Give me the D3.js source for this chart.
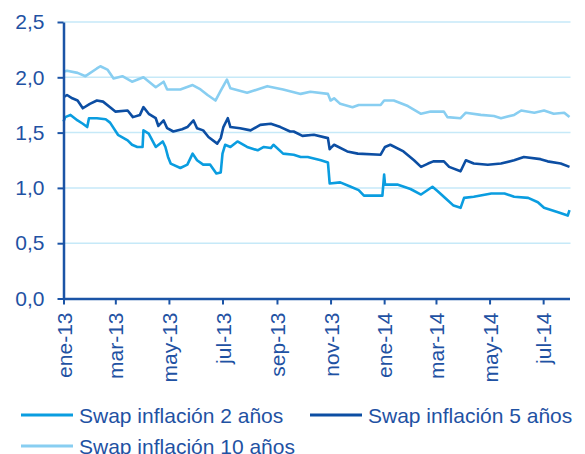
<!DOCTYPE html>
<html>

<head>
    <meta charset="utf-8" />
    <title>Swap inflación</title>
    <style>
        body { margin: 0; background: #fff; }
        svg text { font-family: "Liberation Sans", Arial, sans-serif; fill: #1f52a3; }
    </style>
</head>

<body>
    <svg width=585 height=454></svg>
</body>

<script src="https://cdn.jsdelivr.net/npm/d3@7"></script>
<script>

    var seriesNames = ['Swap inflación 2 años', 'Swap inflación 5 años', 'Swap inflación 10 años'];
    var yTicks = [0, 0.5, 1.0, 1.5, 2.0, 2.5];
    var mesesEs = ['ene', 'feb', 'mar', 'abr', 'may', 'jun', 'jul', 'ago', 'sep', 'oct', 'nov', 'dic'];

    var swap2 = [
        ['2013-01-01', 1.60], ['2013-01-03', 1.64], ['2013-01-09', 1.66], ['2013-01-17', 1.61],
        ['2013-01-23', 1.58], ['2013-01-28', 1.55], ['2013-01-30', 1.63], ['2013-02-08', 1.63],
        ['2013-02-18', 1.62], ['2013-02-23', 1.59], ['2013-03-04', 1.48], ['2013-03-15', 1.43],
        ['2013-03-20', 1.39], ['2013-03-26', 1.37], ['2013-04-01', 1.37], ['2013-04-02', 1.52],
        ['2013-04-08', 1.49], ['2013-04-16', 1.37], ['2013-04-24', 1.42], ['2013-04-27', 1.37],
        ['2013-04-30', 1.28], ['2013-05-03', 1.22], ['2013-05-14', 1.18], ['2013-05-22', 1.21],
        ['2013-05-28', 1.31], ['2013-06-02', 1.25], ['2013-06-09', 1.21], ['2013-06-17', 1.21],
        ['2013-06-24', 1.13], ['2013-06-29', 1.14], ['2013-07-01', 1.31], ['2013-07-04', 1.39],
        ['2013-07-10', 1.37], ['2013-07-18', 1.42], ['2013-07-29', 1.37], ['2013-08-10', 1.34],
        ['2013-08-17', 1.37], ['2013-08-25', 1.36], ['2013-08-28', 1.39], ['2013-09-08', 1.31],
        ['2013-09-20', 1.30], ['2013-09-28', 1.28], ['2013-10-06', 1.28], ['2013-10-21', 1.25],
        ['2013-10-29', 1.23], ['2013-10-31', 1.04], ['2013-11-12', 1.05], ['2013-11-24', 1.01],
        ['2013-12-03', 0.98], ['2013-12-09', 0.93], ['2013-12-30', 0.93], ['2014-01-01', 1.12],
        ['2014-01-02', 1.03], ['2014-01-16', 1.03], ['2014-01-31', 0.99], ['2014-02-12', 0.94],
        ['2014-02-25', 1.01], ['2014-03-03', 0.97], ['2014-03-14', 0.89], ['2014-03-21', 0.84],
        ['2014-03-29', 0.82], ['2014-04-02', 0.91], ['2014-04-13', 0.92], ['2014-05-03', 0.95],
        ['2014-05-18', 0.95], ['2014-05-29', 0.92], ['2014-06-14', 0.91], ['2014-06-25', 0.87],
        ['2014-07-02', 0.82], ['2014-07-18', 0.78], ['2014-07-29', 0.75], ['2014-07-31', 0.80]
    ];

    var swap5 = [
        ['2013-01-01', 1.82], ['2013-01-05', 1.84], ['2013-01-11', 1.81], ['2013-01-17', 1.79],
        ['2013-01-23', 1.72], ['2013-01-31', 1.76], ['2013-02-08', 1.79], ['2013-02-15', 1.78],
        ['2013-02-23', 1.73], ['2013-03-01', 1.69], ['2013-03-15', 1.70], ['2013-03-21', 1.64],
        ['2013-03-29', 1.66], ['2013-04-02', 1.73], ['2013-04-08', 1.67], ['2013-04-16', 1.63],
        ['2013-04-19', 1.56], ['2013-04-25', 1.61], ['2013-04-29', 1.54], ['2013-05-06', 1.51],
        ['2013-05-16', 1.53], ['2013-05-22', 1.55], ['2013-05-29', 1.61], ['2013-06-02', 1.54],
        ['2013-06-09', 1.52], ['2013-06-15', 1.46], ['2013-06-25', 1.40], ['2013-06-29', 1.45],
        ['2013-07-02', 1.55], ['2013-07-07', 1.63], ['2013-07-10', 1.55], ['2013-07-21', 1.54],
        ['2013-08-02', 1.52], ['2013-08-13', 1.57], ['2013-08-25', 1.58], ['2013-09-05', 1.55],
        ['2013-09-16', 1.51], ['2013-09-20', 1.51], ['2013-09-30', 1.47], ['2013-10-13', 1.48],
        ['2013-10-29', 1.45], ['2013-10-31', 1.35], ['2013-11-01', 1.36], ['2013-11-05', 1.39],
        ['2013-11-20', 1.33], ['2013-12-02', 1.31], ['2013-12-28', 1.30], ['2014-01-02', 1.37],
        ['2014-01-08', 1.39], ['2014-01-23', 1.33], ['2014-02-04', 1.25], ['2014-02-12', 1.19],
        ['2014-02-20', 1.22], ['2014-02-26', 1.24], ['2014-03-10', 1.24], ['2014-03-16', 1.19],
        ['2014-03-29', 1.15], ['2014-04-04', 1.25], ['2014-04-13', 1.22], ['2014-04-29', 1.21],
        ['2014-05-14', 1.22], ['2014-05-29', 1.25], ['2014-06-09', 1.28], ['2014-06-28', 1.26],
        ['2014-07-06', 1.24], ['2014-07-21', 1.22], ['2014-07-31', 1.19]
    ];

    var swap10 = [
        ['2013-01-01', 2.05], ['2013-01-05', 2.06], ['2013-01-17', 2.04], ['2013-01-26', 2.01],
        ['2013-02-08', 2.08], ['2013-02-12', 2.10], ['2013-02-20', 2.07], ['2013-02-27', 1.99],
        ['2013-03-09', 2.01], ['2013-03-20', 1.96], ['2013-04-02', 2.00], ['2013-04-16', 1.91],
        ['2013-04-25', 1.96], ['2013-04-29', 1.89], ['2013-05-14', 1.89], ['2013-05-28', 1.93],
        ['2013-06-06', 1.89], ['2013-06-14', 1.84], ['2013-06-23', 1.79], ['2013-06-29', 1.88],
        ['2013-07-06', 1.98], ['2013-07-10', 1.90], ['2013-07-29', 1.86], ['2013-08-21', 1.92],
        ['2013-09-08', 1.89], ['2013-09-28', 1.85], ['2013-10-09', 1.87], ['2013-10-29', 1.85],
        ['2013-11-01', 1.79], ['2013-11-05', 1.81], ['2013-11-12', 1.76], ['2013-11-26', 1.73],
        ['2013-12-03', 1.75], ['2013-12-28', 1.75], ['2014-01-01', 1.79], ['2014-01-12', 1.79],
        ['2014-01-28', 1.74], ['2014-02-12', 1.67], ['2014-02-23', 1.69], ['2014-03-10', 1.69],
        ['2014-03-14', 1.64], ['2014-03-29', 1.63], ['2014-04-04', 1.68], ['2014-04-21', 1.66],
        ['2014-05-06', 1.65], ['2014-05-14', 1.63], ['2014-05-29', 1.66], ['2014-06-06', 1.70],
        ['2014-06-21', 1.68], ['2014-07-02', 1.70], ['2014-07-13', 1.67], ['2014-07-25', 1.68],
        ['2014-07-31', 1.64]
    ];

    var colors = ['#0a9de0', '#0c4ea3', '#88cef1'];
    var axisColor = '#1b54a6';

    var parse = d3.timeParse('%Y-%m-%d');
    var series = [swap2, swap5, swap10].map(function (s, i) {
        return {
            name: seriesNames[i],
            color: colors[i],
            values: s.map(function (d) { return { date: parse(d[0]), value: d[1] }; })
        };
    });

    var plotLeft = 63.5, plotRight = 569.5, plotTop = 22, plotBottom = 298.5;
    var svg = d3.select('svg');

    var x = d3.scaleTime()
        .domain([parse('2013-01-01'), parse('2014-07-31')])
        .range([plotLeft, plotRight]);
    var y = d3.scaleLinear()
        .domain([0, 2.5])
        .range([plotBottom, plotTop]);

    // gridlines
    svg.append('g')
        .selectAll('line')
        .data(yTicks.filter(function (d) { return d > 0; }))
        .enter()
        .append('line')
        .attr('x1', plotLeft)
        .attr('x2', plotRight + 1)
        .attr('y1', function (d) { return y(d); })
        .attr('y2', function (d) { return y(d); })
        .attr('stroke', '#c6e9f8')
        .attr('stroke-width', 1.5);

    // lines
    var line = d3.line()
        .x(function (d) { return x(d.date); })
        .y(function (d) { return y(d.value); });

    svg.append('g')
        .selectAll('path')
        .data(series.slice().reverse())
        .enter()
        .append('path')
        .attr('d', function (d) { return line(d.values); })
        .attr('fill', 'none')
        .attr('stroke', function (d) { return d.color; })
        .attr('stroke-width', 2.6)
        .attr('stroke-linejoin', 'round');

    // axes
    var yAxis = svg.append('g')
        .attr('transform', 'translate(' + plotLeft + ',0)')
        .call(d3.axisLeft(y)
            .tickValues(yTicks)
            .tickSize(6)
            .tickSizeOuter(0)
            .tickPadding(13)
            .tickFormat(function (d) { return d3.format('.1f')(d).replace('.', ','); }));

    var xAxis = svg.append('g')
        .attr('transform', 'translate(0,' + plotBottom + ')')
        .call(d3.axisBottom(x)
            .ticks(d3.timeMonth.every(2))
            .tickSize(6)
            .tickSizeOuter(0)
            .tickFormat(function (d) {
                return mesesEs[d.getMonth()] + '-' + d3.timeFormat('%y')(d);
            }));

    xAxis.selectAll('text')
        .attr('transform', 'rotate(-90)')
        .attr('x', -14)
        .attr('y', 0)
        .attr('dy', '0.36em')
        .style('text-anchor', 'end');

    [yAxis, xAxis].forEach(function (a) {
        a.select('.domain').attr('stroke', axisColor).attr('stroke-width', 2.5);
        a.selectAll('.tick line').attr('stroke', axisColor).attr('stroke-width', 2);
        a.selectAll('text').style('font-size', '21px').attr('fill', '#1f52a3')
            .style('font-family', '"Liberation Sans", Arial, sans-serif');
    });

    // legend
    var legendPos = [[21, 415], [310, 415], [21, 446]];
    var legend = svg.append('g')
        .selectAll('g')
        .data(series)
        .enter()
        .append('g')
        .attr('transform', function (d, i) { return 'translate(' + legendPos[i][0] + ',' + legendPos[i][1] + ')'; });

    legend.append('line')
        .attr('x1', 0)
        .attr('x2', 52)
        .attr('stroke', function (d) { return d.color; })
        .attr('stroke-width', 3);

    legend.append('text')
        .attr('x', 58)
        .attr('y', 8)
        .style('font-size', '21px')
        .text(function (d) { return d.name; });

</script>

</html>
